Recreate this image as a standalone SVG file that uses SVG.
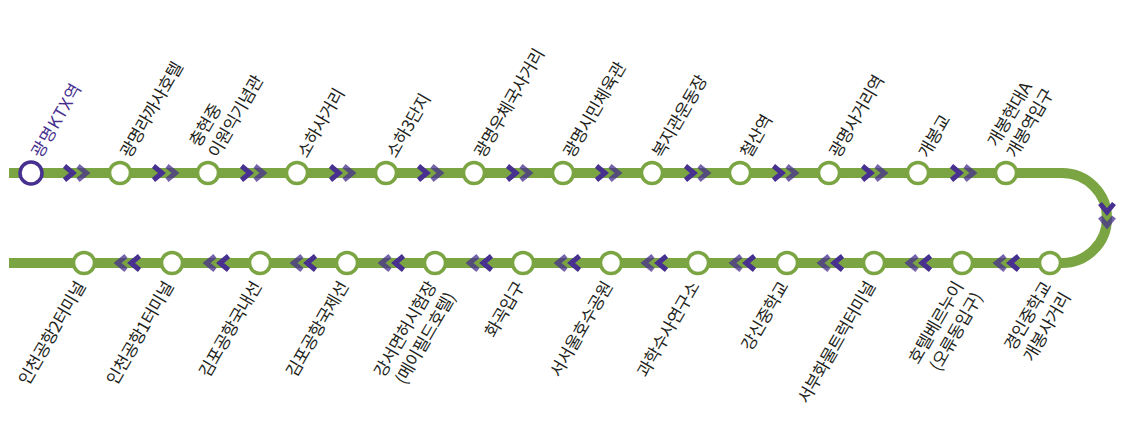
<svg xmlns="http://www.w3.org/2000/svg" width="1123" height="421" viewBox="0 0 1123 421">
<style>
text{font-family:"Noto Sans CJK KR","Liberation Sans",sans-serif;font-size:17px;fill:#231f20;letter-spacing:-.4px}
.first text{fill:#47308f;letter-spacing:.9px}
.st{fill:#fff;stroke:#7ba442;stroke-width:3.5}
.first .st{stroke:#47308f}
.line{fill:none;stroke:#7ba442;stroke-width:10}
.c1,.c2{fill:none;stroke:#47308f;stroke-width:5}
.c2{opacity:.75}
</style>
<defs>
<g id="ch"><path class="c1" d="M-13.500-7l8.500 7-8.500 7"/><path class="c2" d="M0-7l8.500 7-8.500 7"/></g>
</defs>
<g id="connectors">
<path class="line" d="M9 173H1062A45 45 0 0 1 1062 263H9"/>
<use href="#ch" transform="translate(78 173)"/><use href="#ch" transform="translate(167 173)"/><use href="#ch" transform="translate(255 173)"/><use href="#ch" transform="translate(344 173)"/><use href="#ch" transform="translate(432 173)"/><use href="#ch" transform="translate(521 173)"/><use href="#ch" transform="translate(610 173)"/><use href="#ch" transform="translate(699 173)"/><use href="#ch" transform="translate(787 173)"/><use href="#ch" transform="translate(876 173)"/><use href="#ch" transform="translate(965 173)"/>
<use href="#ch" transform="translate(1107 217) rotate(90)"/>
<use href="#ch" transform="translate(1005 263) rotate(180)"/><use href="#ch" transform="translate(917 263) rotate(180)"/><use href="#ch" transform="translate(829 263) rotate(180)"/><use href="#ch" transform="translate(741 263) rotate(180)"/><use href="#ch" transform="translate(653 263) rotate(180)"/><use href="#ch" transform="translate(566 263) rotate(180)"/><use href="#ch" transform="translate(478 263) rotate(180)"/><use href="#ch" transform="translate(390 263) rotate(180)"/><use href="#ch" transform="translate(302 263) rotate(180)"/><use href="#ch" transform="translate(215 263) rotate(180)"/><use href="#ch" transform="translate(126 263) rotate(180)"/>
</g>
<g id="s01" class="first"><circle class="st" cx="31" cy="173" r="11"/><text transform="translate(41 159) rotate(-60)">광명KTX역</text></g>
<g id="s02"><circle class="st" cx="120" cy="173" r="10.500"/><text transform="translate(130 159) rotate(-60)">광명라까사호텔</text></g>
<g id="s03"><circle class="st" cx="208" cy="173" r="10.500"/><text transform="translate(218 159) rotate(-60)"><tspan x="0" y="-22">충현중</tspan><tspan x="0" y="0">이원익기념관</tspan></text></g>
<g id="s04"><circle class="st" cx="297" cy="173" r="10.500"/><text transform="translate(307 159) rotate(-60)">소하사거리</text></g>
<g id="s05"><circle class="st" cx="386" cy="173" r="10.500"/><text transform="translate(396 159) rotate(-60)">소하3단지</text></g>
<g id="s06"><circle class="st" cx="474" cy="173" r="10.500"/><text transform="translate(484 159) rotate(-60)">광명우체국사거리</text></g>
<g id="s07"><circle class="st" cx="563" cy="173" r="10.500"/><text transform="translate(573 159) rotate(-60)">광명시민체육관</text></g>
<g id="s08"><circle class="st" cx="652" cy="173" r="10.500"/><text transform="translate(662 159) rotate(-60)">복지관운동장</text></g>
<g id="s09"><circle class="st" cx="740" cy="173" r="10.500"/><text transform="translate(750 159) rotate(-60)">철산역</text></g>
<g id="s10"><circle class="st" cx="829" cy="173" r="10.500"/><text transform="translate(839 159) rotate(-60)">광명사거리역</text></g>
<g id="s11"><circle class="st" cx="918" cy="173" r="10.500"/><text transform="translate(928 159) rotate(-60)">개봉교</text></g>
<g id="s12"><circle class="st" cx="1006" cy="173" r="10.500"/><text transform="translate(1016 159) rotate(-60)"><tspan x="0" y="-22">개봉현대A</tspan><tspan x="0" y="0">개봉역입구</tspan></text></g>
<g id="s13"><circle class="st" cx="1050" cy="263" r="10.500"/><text text-anchor="end" transform="translate(1052 286) rotate(-60)"><tspan x="0" y="0">경인중학교</tspan><tspan x="0" y="22">개봉사거리</tspan></text></g>
<g id="s14"><circle class="st" cx="962" cy="263" r="10.500"/><text text-anchor="end" transform="translate(964 286) rotate(-60)"><tspan x="0" y="0">호텔베르누이</tspan><tspan x="0" y="22">(오류동입구)</tspan></text></g>
<g id="s15"><circle class="st" cx="874" cy="263" r="10.500"/><text text-anchor="end" transform="translate(876 286) rotate(-60)">서부화물트럭터미널</text></g>
<g id="s16"><circle class="st" cx="787" cy="263" r="10.500"/><text text-anchor="end" transform="translate(789 286) rotate(-60)">강신중학교</text></g>
<g id="s17"><circle class="st" cx="698" cy="263" r="10.500"/><text text-anchor="end" transform="translate(700 286) rotate(-60)">과학수사연구소</text></g>
<g id="s18"><circle class="st" cx="611" cy="263" r="10.500"/><text text-anchor="end" transform="translate(613 286) rotate(-60)">서서울호수공원</text></g>
<g id="s19"><circle class="st" cx="523" cy="263" r="10.500"/><text text-anchor="end" transform="translate(525 286) rotate(-60)">화곡입구</text></g>
<g id="s20"><circle class="st" cx="435" cy="263" r="10.500"/><text text-anchor="end" transform="translate(437 286) rotate(-60)"><tspan x="0" y="0">강서면허시험장</tspan><tspan x="0" y="22">(메이필드호텔)</tspan></text></g>
<g id="s21"><circle class="st" cx="347" cy="263" r="10.500"/><text text-anchor="end" transform="translate(349 286) rotate(-60)">김포공항국제선</text></g>
<g id="s22"><circle class="st" cx="260" cy="263" r="10.500"/><text text-anchor="end" transform="translate(262 286) rotate(-60)">김포공항국내선</text></g>
<g id="s23"><circle class="st" cx="172" cy="263" r="10.500"/><text text-anchor="end" transform="translate(174 286) rotate(-60)">인천공항1터미널</text></g>
<g id="s24"><circle class="st" cx="84" cy="263" r="10.500"/><text text-anchor="end" transform="translate(86 286) rotate(-60)">인천공항2터미널</text></g>
</svg>
